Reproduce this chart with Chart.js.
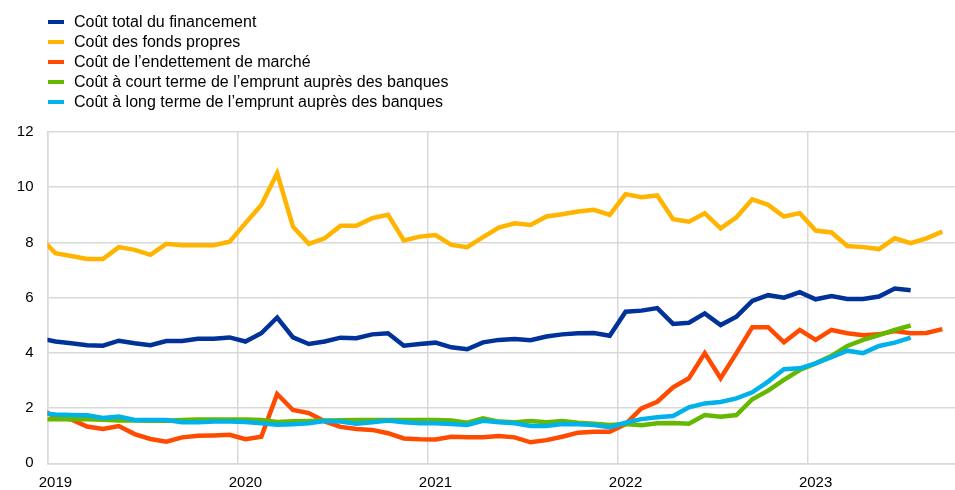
<!DOCTYPE html>
<html lang="fr">
<head>
  <meta charset="UTF-8" />
  <title>Coût du financement des entreprises</title>
  <script src="https://cdn.jsdelivr.net/npm/chart.js"></script>
  <style>
    html, body { margin: 0; padding: 0; background: #fff; }
    .wrap { position: relative; width: 955px; height: 490px; }
    #legend {
      position: absolute; left: 48px; top: 11.6px;
      font-family: "Liberation Sans", Arial, sans-serif; font-size: 16px; color: #000;
    }
    #legend .item { display: flex; align-items: center; height: 20.2px; white-space: nowrap; }
    #legend .box { display: inline-block; width: 16px; height: 4px; margin-right: 10px; }
  </style>
</head>
<body>
  <div class="wrap">
    <canvas id="chart" width="955" height="490"></canvas>
    <div id="legend"></div>
  </div>

  <script>
    // Monthly series, first value = Dec 2018 (drawn just left of the axis and clipped)
    const seriesLabels = [
      'Coût total du financement',
      'Coût des fonds propres',
      'Coût de l’endettement de marché',
      'Coût à court terme de l’emprunt auprès des banques',
      'Coût à long terme de l’emprunt auprès des banques'
    ];
    const seriesColors = ['#003299', '#FFB400', '#FF4B00', '#65B800', '#00B1EA'];

    const totalCost = [4.53,
      4.41, 4.35, 4.28, 4.26, 4.44, 4.35, 4.28, 4.43, 4.43, 4.51, 4.51, 4.56,
      4.41, 4.71, 5.28, 4.56, 4.32, 4.41, 4.55, 4.53, 4.67, 4.71, 4.26, 4.32,
      4.37, 4.20, 4.13, 4.38, 4.47, 4.50, 4.46, 4.59, 4.67, 4.71, 4.72, 4.62,
      5.49, 5.53, 5.62, 5.05, 5.09, 5.43, 5.01, 5.31, 5.88, 6.09, 6.00, 6.20,
      5.94, 6.06, 5.95, 5.95, 6.04, 6.33, 6.27];
    const equityCost = [8.21,
      7.61, 7.51, 7.40, 7.40, 7.83, 7.73, 7.55, 7.95, 7.90, 7.90, 7.90, 8.03,
      8.70, 9.36, 10.51, 8.57, 7.95, 8.15, 8.60, 8.60, 8.88, 9.00, 8.07, 8.21,
      8.27, 7.91, 7.83, 8.19, 8.54, 8.69, 8.63, 8.94, 9.02, 9.12, 9.18, 9.00,
      9.75, 9.64, 9.70, 8.84, 8.75, 9.06, 8.51, 8.91, 9.56, 9.36, 8.94, 9.06,
      8.43, 8.36, 7.87, 7.83, 7.76, 8.15, 7.97, 8.15, 8.39];
    const marketDebtCost = [1.99,
      1.67, 1.59, 1.33, 1.24, 1.35, 1.06, 0.88, 0.78, 0.94, 1.00, 1.01, 1.03,
      0.87, 0.96, 2.51, 1.93, 1.82, 1.52, 1.32, 1.24, 1.21, 1.09, 0.90, 0.87,
      0.86, 0.96, 0.94, 0.94, 0.99, 0.94, 0.76, 0.84, 0.96, 1.11, 1.14, 1.14,
      1.42, 1.99, 2.23, 2.75, 3.08, 3.99, 3.08, 3.99, 4.93, 4.93, 4.38, 4.83,
      4.47, 4.83, 4.71, 4.64, 4.67, 4.79, 4.71, 4.72, 4.86];
    const shortBankCost = [1.60,
      1.60, 1.60, 1.60, 1.58, 1.55, 1.55, 1.54, 1.54, 1.57, 1.59, 1.59, 1.59,
      1.59, 1.57, 1.50, 1.52, 1.53, 1.55, 1.56, 1.57, 1.57, 1.57, 1.57, 1.57,
      1.57, 1.55, 1.47, 1.63, 1.51, 1.49, 1.53, 1.49, 1.53, 1.47, 1.43, 1.39,
      1.42, 1.38, 1.45, 1.46, 1.43, 1.75, 1.69, 1.75, 2.32, 2.63, 3.02, 3.38,
      3.62, 3.89, 4.25, 4.47, 4.64, 4.83, 4.99];
    const longBankCost = [1.81,
      1.77, 1.75, 1.74, 1.64, 1.69, 1.57, 1.57, 1.57, 1.49, 1.49, 1.51, 1.51,
      1.50, 1.45, 1.40, 1.41, 1.45, 1.53, 1.51, 1.43, 1.49, 1.55, 1.49, 1.45,
      1.45, 1.42, 1.39, 1.54, 1.49, 1.45, 1.35, 1.35, 1.42, 1.41, 1.39, 1.31,
      1.47, 1.60, 1.67, 1.71, 2.03, 2.17, 2.22, 2.35, 2.57, 2.96, 3.41, 3.44,
      3.62, 3.84, 4.08, 3.99, 4.25, 4.37, 4.55];

    const yearTicks = [2019, 2020, 2021, 2022, 2023];
    const yTicks = [0, 2, 4, 6, 8, 10, 12];

    // x is in months since 1 Jan 2019; each value sits mid-month
    const toPoints = arr => arr.map((v, i) => ({ x: i - 0.5, y: v }));

    const allSeries = [totalCost, equityCost, marketDebtCost, shortBankCost, longBankCost];
    const datasets = allSeries.map((arr, i) => ({
      label: seriesLabels[i],
      data: toPoints(arr),
      borderColor: seriesColors[i],
      backgroundColor: seriesColors[i],
      borderWidth: 4.5,
      pointRadius: 0,
      tension: 0,
      fill: false,
      clip: 0,
      order: allSeries.length - i
    }));

    const font = { family: '"Liberation Sans", Arial, sans-serif', size: 15 };
    const gridColor = '#d9d9d9';

    new Chart(document.getElementById('chart'), {
      type: 'line',
      data: { datasets },
      options: {
        responsive: false,
        animation: false,
        layout: { padding: { top: 132, left: 0, right: 0, bottom: 0 } },
        plugins: { legend: { display: false }, tooltip: { enabled: false } },
        scales: {
          x: {
            type: 'linear',
            min: 0,
            max: 57.3,
            afterBuildTicks: scale => {
              scale.ticks = yearTicks.map(y => ({ value: (y - 2019) * 12 }));
            },
            afterFit: scale => { scale.height = 26.7; },
            ticks: {
              callback: (v, i) => String(yearTicks[i]),
              labelOffset: 7.9,
              padding: 11,
              maxRotation: 0,
              autoSkip: false,
              color: '#000',
              font
            },
            grid: { color: gridColor, lineWidth: 1.5, drawTicks: false },
            border: { color: gridColor, width: 1.5 }
          },
          y: {
            min: 0,
            max: 12,
            afterBuildTicks: scale => {
              scale.ticks = yTicks.map(v => ({ value: v }));
            },
            afterFit: scale => { scale.width = 47.5; },
            ticks: { padding: 14, color: '#000', font },
            grid: { color: gridColor, lineWidth: 1.5, drawTicks: false },
            border: { color: gridColor, width: 1.5 }
          }
        }
      }
    });

    // Vertical legend above the plot
    const legend = document.getElementById('legend');
    datasets.forEach(ds => {
      const item = document.createElement('div');
      item.className = 'item';
      const box = document.createElement('span');
      box.className = 'box';
      box.style.background = ds.borderColor;
      item.appendChild(box);
      item.appendChild(document.createTextNode(ds.label));
      legend.appendChild(item);
    });
  </script>
</body>
</html>
